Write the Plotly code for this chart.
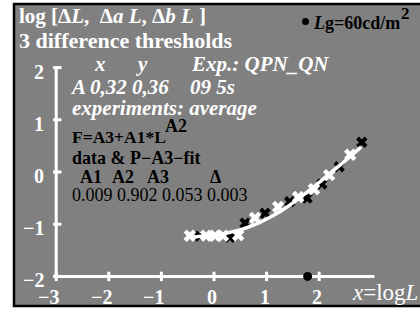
import plotly.graph_objects as go

# ---- data ----
white_x = [-0.46, -0.15, 0.02, 0.17, 0.46, 0.78, 1.22, 1.60, 1.90, 2.19, 2.59]
white_y = [-1.22, -1.22, -1.22, -1.22, -1.21, -0.88, -0.67, -0.48, -0.33, -0.06, 0.33]
black_x = [-0.27, 0.30, 0.59, 0.97, 1.44, 1.77, 2.05, 2.38, 2.81]
black_y = [-1.23, -1.25, -0.98, -0.79, -0.57, -0.50, -0.23, 0.10, 0.57]
curve_x = [-0.45, -0.25, 0.0, 0.25, 0.5, 0.75, 1.0, 1.25, 1.5, 1.75, 2.0, 2.25, 2.5, 2.8]
curve_y = [-1.25, -1.23, -1.21, -1.17, -1.11, -1.02, -0.90, -0.76, -0.59, -0.40, -0.20, 0.01, 0.22, 0.48]
lg_value = 1.78  # log10(60)
x_ticks = [-3, -2, -1, 0, 1, 2]
x_tick_labels = ["\u22123", "\u22122", "\u22121", "0", "1", "2"]
y_ticks = [-2, -1, 0, 1, 2]
y_tick_labels = ["\u22122", "\u22121", "0", "1", "2"]
param_names = ["A1", "A2", "A3", "\u0394"]
param_values = ["0.009", "0.902", "0.053", "0.003"]

W, H = 420, 310
X0, XU = 214.0, 52.6
Y0, YU = 172.0, 52.2
xr = [(0 - X0) / XU, (W - X0) / XU]
yr = [(Y0 - H) / YU, (Y0 - 0) / YU]

def px(x):
    return x / W

def py(y):
    return 1 - y / H

GRAY = "#808080"
SERIF = "Liberation Serif"

fig = go.Figure()

# axis lines
xmin, xmax = -3, 3.05
ymin, ymax = -2, 2
fig.add_trace(go.Scatter(x=[xmin, xmax], y=[ymin, ymin], mode="lines",
                         line=dict(color="white", width=3), hoverinfo="skip"))
fig.add_trace(go.Scatter(x=[xmin, xmin], y=[ymin, ymax], mode="lines",
                         line=dict(color="white", width=3), hoverinfo="skip"))
# ticks
tx, ty = [], []
for t in x_ticks:
    tx += [t, t, None]
    ty += [ymin - 0.09, ymin + 0.09, None]
for t in y_ticks:
    tx += [xmin - 0.06, xmin + 0.1, None]
    ty += [t, t, None]
fig.add_trace(go.Scatter(x=tx, y=ty, mode="lines",
                         line=dict(color="white", width=3), hoverinfo="skip"))

# data
fig.add_trace(go.Scatter(x=black_x, y=black_y, mode="markers",
                         marker=dict(symbol="x", size=10, color="black", line=dict(width=0))))
fig.add_trace(go.Scatter(x=curve_x, y=curve_y, mode="lines",
                         line=dict(color="white", width=3.5, shape="spline")))
fig.add_trace(go.Scatter(x=white_x, y=white_y, mode="markers",
                         marker=dict(symbol="x", size=11, color="white", line=dict(width=0))))
fig.add_trace(go.Scatter(x=[lg_value], y=[ymin], mode="markers",
                         marker=dict(symbol="circle", size=9, color="black")))

shapes = [
    dict(type="rect", xref="paper", yref="paper", x0=px(14), x1=px(425), y0=py(306), y1=py(4),
         fillcolor=GRAY, line=dict(color="black", width=2.5), layer="below"),
    dict(type="circle", xref="paper", yref="paper", x0=px(302), x1=px(309), y0=py(25), y1=py(18),
         fillcolor="black", line=dict(width=0)),
]

ann = []
def T(text, x, y, size, color="white", xanchor="left"):
    ann.append(dict(text=text, x=px(x), y=py(y), xref="paper", yref="paper",
                    xanchor=xanchor, yanchor="middle", showarrow=False,
                    font=dict(family=SERIF, size=size, color=color)))

T("<b>log [\u0394<i>L</i>,  \u0394<i>a L</i>, \u0394<i>b L</i> ]</b>", 17, 16, 21)
T("<b>3 difference thresholds</b>", 17, 40, 22)
T("<b><i>x</i></b>", 92, 64, 21)
T("<b><i>y</i></b>", 133, 64, 21)
T("<b><i>Exp.: QPN_QN</i></b>", 189, 64, 21)
T("<b><i>A 0,32 0,36</i></b>", 68, 87, 21)
T("<b><i>09 5s</i></b>", 188, 87, 21)
T("<b><i>experiments: average</i></b>", 70, 108, 21)
T("<b>F=A3+A1*L</b>", 70, 137, 17.5, "black")
T("<b>A2</b>", 163, 126, 18, "black")
T("<b>data &amp; P\u2212A3\u2212fit</b>", 70, 158, 18, "black")
for name, xp in zip(param_names, [78, 110, 145, 208]):
    T("<b>" + name + "</b>", xp, 177, 18, "black")
T(" ".join(param_values), 70, 195, 18, "black")
T("<b><i>L</i>g=60cd/m</b>", 311, 23, 18, "black")
T("<b>2</b>", 399, 13, 17, "black")
T("<i>x</i>=log<i>L</i>", 420, 292, 23, "white", "right")

for t, lab in zip(x_ticks, x_tick_labels):
    T("<b>" + lab + "</b>", X0 + XU * t + 5, 297, 20, "white", "right")
for t, lab in zip(y_ticks, y_tick_labels):
    T("<b>" + lab + "</b>", 46, Y0 - YU * t + 4, 20, "white", "right")

fig.update_layout(
    width=W, height=H, margin=dict(l=0, r=0, t=0, b=0),
    paper_bgcolor="white", plot_bgcolor="rgba(0,0,0,0)",
    showlegend=False, shapes=shapes, annotations=ann,
    xaxis=dict(range=xr, visible=False, fixedrange=True),
    yaxis=dict(range=yr, visible=False, fixedrange=True),
)
fig.write_html("out.html", config={"displayModeBar": False},
               post_script="document.body.style.margin='0px';document.body.style.overflow='hidden';")
